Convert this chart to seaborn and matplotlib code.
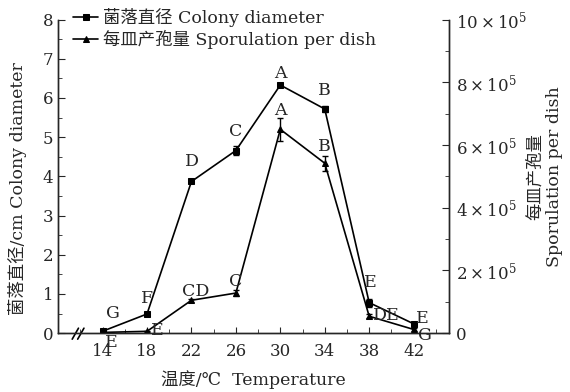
import numpy as np
import pandas as pd
import matplotlib
matplotlib.use("Agg")
import matplotlib.pyplot as plt
import matplotlib.ticker as mticker
import seaborn as sns

# ---- data ----
temperature = [14, 18, 22, 26, 30, 34, 38, 42]
colony_diameter = [0.05, 0.49, 3.87, 4.66, 6.33, 5.72, 0.78, 0.24]
colony_err = [0.03, 0.03, 0.04, 0.12, 0.05, 0.08, 0.10, 0.05]
colony_letters = ["G", "F", "D", "C", "A", "B", "E", "E"]

sporulation = [2.5e3, 6e3, 1.05e5, 1.28e5, 6.5e5, 5.42e5, 5.4e4, 1.2e4]
sporulation_err = [2e3, 2e3, 4e3, 1e4, 3.6e4, 2.4e4, 6e3, 6e3]
sporulation_letters = ["E", "E", "CD", "C", "A", "B", "DE", "G"]

df = pd.DataFrame({"temp": temperature, "colony": colony_diameter,
                   "spor": sporulation})

sns.set_style("ticks")
plt.rcParams["font.family"] = ["DejaVu Serif", "Noto Sans CJK SC"]
plt.rcParams["mathtext.fontset"] = "dejavuserif"
plt.rcParams["axes.linewidth"] = 1.0

fig = plt.figure(figsize=(5.7, 3.92), dpi=100)
ax = fig.add_axes([0.102, 0.15, 0.686, 0.80])
ax2 = ax.twinx()

# colony diameter
sns.lineplot(data=df, x="temp", y="colony", ax=ax, color="black", lw=1.2,
             marker="s", markersize=4, markeredgecolor="black",
             label="菌落直径 Colony diameter", legend=False)
ax.errorbar(temperature, colony_diameter, yerr=colony_err, fmt="none",
            ecolor="black", elinewidth=1, capsize=2.5)

# sporulation
sns.lineplot(data=df, x="temp", y="spor", ax=ax2, color="black", lw=1.2,
             marker="^", markersize=4.5, markeredgecolor="black",
             label="每皿产孢量 Sporulation per dish", legend=False)
ax2.errorbar(temperature, sporulation, yerr=sporulation_err, fmt="none",
             ecolor="black", elinewidth=1, capsize=2.5)

ax.set_xlim(10, 45.2)
ax.set_ylim(0, 8)
ax2.set_ylim(0, 1e6)

ax.set_xticks(temperature)
ax.xaxis.set_minor_locator(mticker.MultipleLocator(2))
ax.yaxis.set_major_locator(mticker.MultipleLocator(1))
ax.yaxis.set_minor_locator(mticker.MultipleLocator(0.5))
ax2.yaxis.set_major_locator(mticker.MultipleLocator(2e5))
ax2.yaxis.set_minor_locator(mticker.MultipleLocator(1e5))


def sci(v, pos):
    if v == 0:
        return "0"
    return r"$%d\times10^{5}$" % round(v / 1e5)


ax2.yaxis.set_major_formatter(mticker.FuncFormatter(sci))

for a in (ax, ax2):
    a.tick_params(which="both", direction="in", labelsize=12)
    a.tick_params(which="major", length=5)
    a.tick_params(which="minor", length=3)
    a.spines["top"].set_visible(False)
ax.tick_params(axis="x", which="major", length=4, pad=7)
ax.tick_params(axis="y", pad=3.5)
ax2.tick_params(axis="y", pad=5)

ax.set_xlabel("温度/℃  Temperature", fontsize=12.5)
ax.xaxis.set_label_coords(0.5, -0.118)
ax.set_ylabel("菌落直径/cm Colony diameter", fontsize=12.5)
ax.yaxis.set_label_coords(-0.08, 0.46)
ax2.set_ylabel("每皿产孢量\nSporulation per dish", fontsize=12.5,
               rotation=90, linespacing=1.15)
ax2.yaxis.set_label_coords(1.2, 0.5)

# significance letters, offsets in pixels (dx right, dy up)
px = 72 / 100
col_off = [(10, 18), (0, 15), (1, 20), (0, 19), (0, 12), (0, 18), (1, 20), (9, 5)]
for t, v, s, (dx, dy) in zip(temperature, colony_diameter, colony_letters, col_off):
    ax.annotate(s, (t, v), xytext=(dx * px, dy * px), textcoords="offset points",
                ha="center", va="center", fontsize=12.5)
spo_off = [(9, -10), (10, 1), (4, 9), (0, 12), (0, 19), (0, 17), (17, 1), (11, -6)]
for t, v, s, (dx, dy) in zip(temperature, sporulation, sporulation_letters, spo_off):
    ax2.annotate(s, (t, v), xytext=(dx * px, dy * px), textcoords="offset points",
                 ha="center", va="center", fontsize=12.5)

# axis break marks
for x0 in (0.036, 0.050):
    ax.plot([x0, x0 + 0.016], [-0.019, 0.016], transform=ax.transAxes,
            color="black", lw=1.2, clip_on=False)

h1, l1 = ax.get_legend_handles_labels()
h2, l2 = ax2.get_legend_handles_labels()
ax.legend(h1 + h2, l1 + l2, loc="upper left", bbox_to_anchor=(0.038, 1.037),
          frameon=False, fontsize=12.5, handlelength=1.45, handletextpad=0.25,
          labelspacing=0.15, borderaxespad=0, borderpad=0)

fig.savefig("out.png", dpi=100)
